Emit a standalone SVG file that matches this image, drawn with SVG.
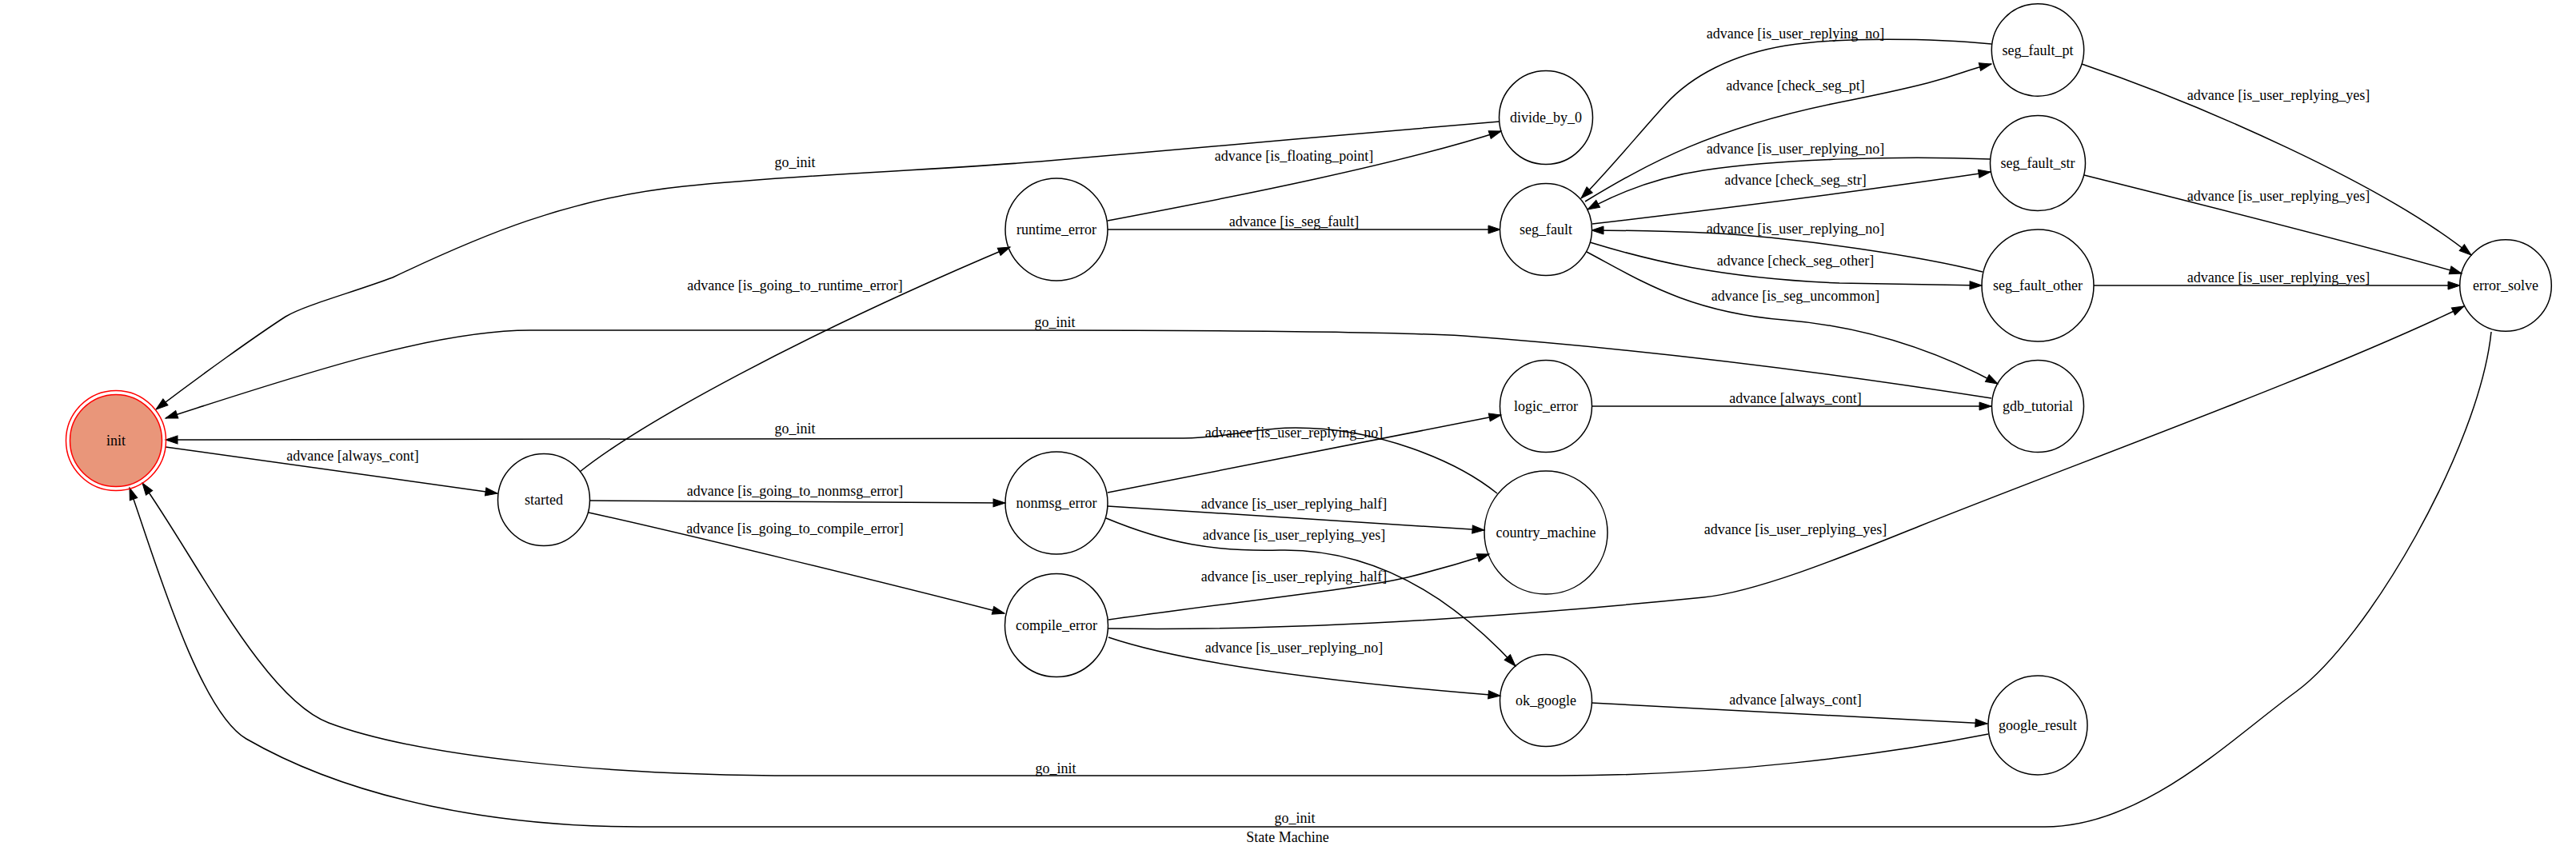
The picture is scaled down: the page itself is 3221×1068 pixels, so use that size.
<svg xmlns="http://www.w3.org/2000/svg" width="3221" height="1068" viewBox="0 0 3221 1068">
<style>
text{font-family:"Liberation Serif","Times New Roman",serif;font-size:18px;fill:#000;text-anchor:middle}
.n{fill:none;stroke:#000;stroke-width:1.5}
.e path{fill:none;stroke:#000;stroke-width:1.5;marker-end:url(#arr)}
</style>
<defs>
<marker id="arr" markerUnits="userSpaceOnUse" markerWidth="16" markerHeight="12" refX="15" refY="5" orient="auto" overflow="visible">
<path d="M0,0 L15,5 L0,10 z" fill="#000" stroke="#000" stroke-width="1"/>
</marker>
</defs>
<rect width="3221" height="1068" fill="#fff"/>
<g id="edges" class="e">
<g><path d="M207,559 L622,617"/><text x="441" y="576">advance [always_cont]</text></g>
<g><path d="M725,590 C800,530 1000,420 1263,309"/><text x="994" y="363">advance [is_going_to_runtime_error]</text></g>
<g><path d="M737,626 L1257,629"/><text x="994" y="620">advance [is_going_to_nonmsg_error]</text></g>
<g><path d="M736,641 C850,666 1100,727 1256,767"/><text x="994" y="667">advance [is_going_to_compile_error]</text></g>
<g><path d="M1385,276 C1550,245 1750,205 1877,164"/><text x="1618" y="201">advance [is_floating_point]</text></g>
<g><path d="M1385,287 L1876,287"/><text x="1618" y="283">advance [is_seg_fault]</text></g>
<g><path d="M1875,152 C1700,166 1450,190 1300,202 C1150,214 1000,218 855,233 C710,248 600,295 491,347 C440,366 380,382 357,396 C320,420 250,470 195,512"/><text x="994" y="209">go_init</text></g>
<g><path d="M1982,252 C2060,205 2140,160 2300,128 S2440,92 2490,80"/><text x="2245" y="113">advance [check_seg_pt]</text></g>
<g><path d="M2490,55 C2420,48 2300,46 2233,57 C2166,68 2115,95 2083,130 C2051,165 2010,215 1977,248"/><text x="2245" y="48">advance [is_user_replying_no]</text></g>
<g><path d="M1991,280 C2120,265 2300,243 2489,215"/><text x="2245" y="231">advance [check_seg_str]</text></g>
<g><path d="M2489,199 C2380,195 2230,198 2130,213 C2070,222 2020,243 1985,262"/><text x="2245" y="192">advance [is_user_replying_no]</text></g>
<g><path d="M2479,340 C2400,320 2250,298 2150,292 C2080,289 2030,288 1990,288"/><text x="2245" y="292">advance [is_user_replying_no]</text></g>
<g><path d="M1988,303 C2060,325 2150,348 2300,354 L2478,357"/><text x="2245" y="332">advance [check_seg_other]</text></g>
<g><path d="M1984,315 C2050,350 2110,390 2230,400 C2330,408 2420,438 2498,480"/><text x="2245" y="376">advance [is_seg_uncommon]</text></g>
<g><path d="M2603,80 C2750,130 2980,230 3090,319"/><text x="2849" y="125">advance [is_user_replying_yes]</text></g>
<g><path d="M2606,219 C2750,255 2950,305 3078,342"/><text x="2849" y="251">advance [is_user_replying_yes]</text></g>
<g><path d="M2618,357 L3076,357"/><text x="2849" y="353">advance [is_user_replying_yes]</text></g>
<g><path d="M1991,508 L2490,508"/><text x="2245" y="504">advance [always_cont]</text></g>
<g><path d="M2490,498 C2350,476 2100,440 1830,420 C1700,413 1400,413 1300,413 L663,413 C550,413 400,460 207,523"/><text x="1319" y="409">go_init</text></g>
<g><path d="M1385,616 L1877,519"/><text x="1618" y="547">advance [is_user_replying_no]</text></g>
<g><path d="M1385,633 L1856,663"/><text x="1618" y="636">advance [is_user_replying_half]</text></g>
<g><path d="M1383,648 C1460,680 1520,690 1600,688 C1700,686 1800,730 1895,833"/><text x="1618" y="675">advance [is_user_replying_yes]</text></g>
<g><path d="M1386,775 C1550,752 1700,736 1760,722 C1800,712 1840,700 1862,693"/><text x="1618" y="727">advance [is_user_replying_half]</text></g>
<g><path d="M1386,786 C1650,790 1950,765 2130,747 C2200,740 2320,690 2400,658 C2600,578 2900,470 3081,383"/><text x="2245" y="668">advance [is_user_replying_yes]</text></g>
<g><path d="M1386,797 C1460,822 1600,848 1876,870"/><text x="1618" y="816">advance [is_user_replying_no]</text></g>
<g><path d="M1872,617 C1820,575 1720,535 1620,535 C1570,535 1540,547 1480,548 L207,550"/><text x="994" y="542">go_init</text></g>
<g><path d="M2486,918 C2350,945 2150,970 1950,970 L1000,970 C750,970 520,945 411,904 C331,874 248,704 178,604"/><text x="1320" y="967">go_init</text></g>
<g><path d="M3115,415 C3100,560 2960,800 2871,865 C2790,924 2680,1034 2557,1034 L800,1034 C620,1034 440,1000 308,924 C248,889 192,694 162,610"/><text x="1619" y="1029">go_init</text></g>
<g><path d="M1990,879 L2485,905"/><text x="2245" y="881">advance [always_cont]</text></g>
</g>
<g id="init"><circle cx="145" cy="551" r="57.5" fill="#e9967a" stroke="#ff0000" stroke-width="1.5"/><circle cx="145" cy="551" r="62.5" fill="none" stroke="#ff0000" stroke-width="1.5"/><text x="145" y="557">init</text></g>
<g id="started"><circle class="n" cx="680" cy="625" r="57.5"/><text x="680" y="631">started</text></g>
<g id="runtime_error"><circle class="n" cx="1321" cy="287" r="64"/><text x="1321" y="293">runtime_error</text></g>
<g id="nonmsg_error"><circle class="n" cx="1321" cy="629" r="64"/><text x="1321" y="635">nonmsg_error</text></g>
<g id="compile_error"><circle class="n" cx="1321" cy="782" r="64.5"/><text x="1321" y="788">compile_error</text></g>
<g id="divide_by_0"><circle class="n" cx="1933" cy="147" r="58.5"/><text x="1933" y="153">divide_by_0</text></g>
<g id="seg_fault"><circle class="n" cx="1933" cy="287" r="57.5"/><text x="1933" y="293">seg_fault</text></g>
<g id="logic_error"><circle class="n" cx="1933" cy="508" r="57.5"/><text x="1933" y="514">logic_error</text></g>
<g id="country_machine"><circle class="n" cx="1933" cy="666" r="77"/><text x="1933" y="672">country_machine</text></g>
<g id="ok_google"><circle class="n" cx="1933" cy="876" r="57.5"/><text x="1933" y="882">ok_google</text></g>
<g id="seg_fault_pt"><circle class="n" cx="2548" cy="62.5" r="57.7"/><text x="2548" y="68.5">seg_fault_pt</text></g>
<g id="seg_fault_str"><circle class="n" cx="2548" cy="204" r="59.5"/><text x="2548" y="210">seg_fault_str</text></g>
<g id="seg_fault_other"><circle class="n" cx="2548" cy="357" r="70"/><text x="2548" y="363">seg_fault_other</text></g>
<g id="gdb_tutorial"><circle class="n" cx="2548" cy="508" r="57.5"/><text x="2548" y="514">gdb_tutorial</text></g>
<g id="google_result"><circle class="n" cx="2548" cy="907" r="62"/><text x="2548" y="913">google_result</text></g>
<g id="error_solve"><circle class="n" cx="3133" cy="357" r="57.3"/><text x="3133" y="363">error_solve</text></g>
<text x="1610" y="1053">State Machine</text>
</svg>
